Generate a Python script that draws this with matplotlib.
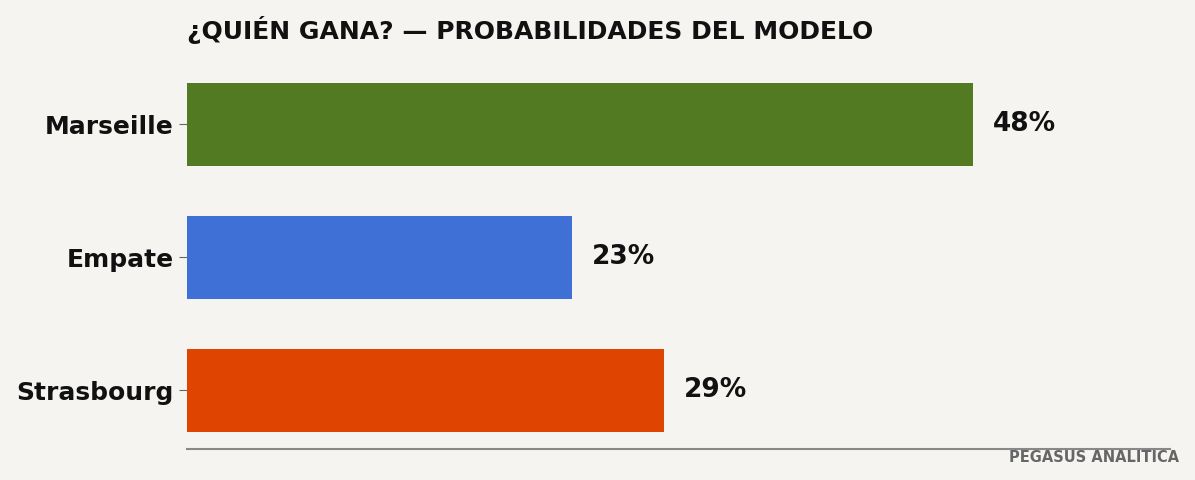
import matplotlib.pyplot as plt

# datos
equipos = ["Marseille", "Empate", "Strasbourg"]
probabilidades = [47.6, 23.3, 28.9]
etiquetas = ["48%", "23%", "29%"]
colores = ["#527a22", "#3e70d6", "#df4400"]

fondo = "#f5f4f0"
fig = plt.figure(figsize=(11.95, 4.8), dpi=100, facecolor=fondo)
ax = fig.add_axes([0.1565, 0.065, 0.8225, 0.7975], facecolor=fondo)

pos = range(len(equipos))
ax.barh(pos, probabilidades, height=0.62, color=colores)
for y, v, t in zip(pos, probabilidades, etiquetas):
    ax.text(v + 1.2, y, t, va="center", ha="left", fontsize=19,
            fontweight="bold", color="#111111")

ax.set_xlim(0, 59.5)
ax.set_ylim(2.44, -0.44)
ax.set_yticks(list(pos))
ax.set_yticklabels(equipos, fontsize=18, fontweight="bold", color="#111111")
ax.set_xticks([])
ax.tick_params(axis="y", length=6, color="#666666")
for s in ["top", "right", "left"]:
    ax.spines[s].set_visible(False)
ax.spines["bottom"].set_color("#888888")
ax.spines["bottom"].set_linewidth(1.5)

fig.text(0.1565, 0.938, "¿QUIÉN GANA? — PROBABILIDADES DEL MODELO",
         fontsize=18, fontweight="bold", color="#111111", va="center")
fig.text(0.987, 0.046, "PEGASUS ANALITICA", fontsize=10.5, fontweight="bold",
         color="#666666", ha="right", va="center")

fig.savefig("out.png", facecolor=fondo)
